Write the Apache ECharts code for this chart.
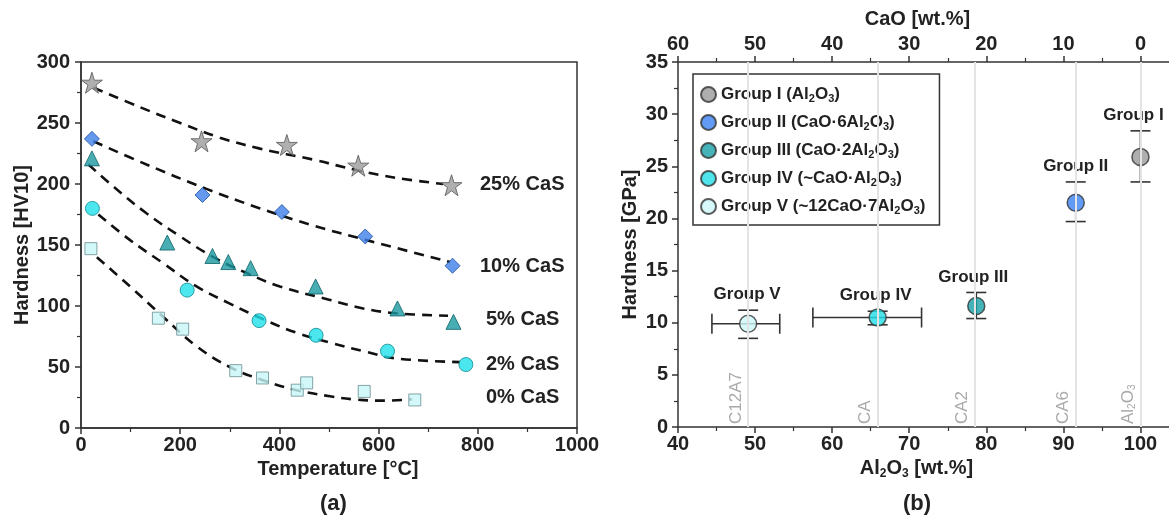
<!DOCTYPE html>
<html>
<head>
<meta charset="utf-8">
<script src="https://cdn.jsdelivr.net/npm/echarts@6/dist/echarts.min.js"></script>
<style>
  html, body { margin: 0; padding: 0; background: #fff; }
  #main { width: 1169px; height: 517px; }
</style>
</head>
<body>
<div id="main"></div>
<script>
// (a) hardness vs temperature, [T °C, HV10]
const cas25 = [[22, 283], [243, 235], [415, 232], [559, 215], [747, 199]];
const cas10 = [[22, 237], [245, 191], [405, 177], [573, 157], [749, 133]];
const cas5 = [[22, 221], [174, 152], [265, 141], [297, 136], [342, 131], [473, 116], [638, 98], [751, 87]];
const cas2 = [[23, 180], [214, 113], [359, 88], [474, 76], [618, 63], [776, 52]];
const cas0 = [[20, 147], [156, 90], [205, 81], [312, 47], [366, 41], [436, 31], [455, 37], [571, 30], [673, 23]];
// dashed fit curves
const fit25 = [[25, 279], [119, 263], [200, 250], [280, 238], [361, 229], [468, 220], [559, 211], [636, 205], [730, 200]];
const fit10 = [[25, 235], [132, 216], [253, 196], [361, 180], [468, 166], [576, 154], [744, 136]];
const fit5 = [[15, 216], [65, 198], [132, 176], [200, 157], [267, 140], [334, 127], [401, 116], [502, 105], [569, 98], [636, 94], [740, 92]];
const fit2 = [[35, 175], [99, 154], [166, 135], [233, 116], [300, 102], [368, 89], [435, 78], [502, 70], [569, 63], [636, 57], [764, 54]];
const fit0 = [[32, 140], [99, 116], [166, 91], [233, 67], [300, 50], [368, 39], [435, 31], [502, 26], [549, 23.5], [609, 22.4], [667, 23.5]];
const casLabels = ['25% CaS', '10% CaS', '5% CaS', '2% CaS', '0% CaS'];

// (b) hardness vs composition
const groups = ['Group I', 'Group II', 'Group III', 'Group IV', 'Group V'];
const groupNames = ['Group I (Al2O3)', 'Group II (CaO·6Al2O3)', 'Group III (CaO·2Al2O3)', 'Group IV (~CaO·Al2O3)', 'Group V (~12CaO·7Al2O3)'];
const al2o3 = [100, 91.6, 78.7, 65.9, 49.1];
const hardGPa = [25.9, 21.5, 11.6, 10.5, 9.9];
const hardLow = [23.5, 19.7, 10.4, 9.8, 8.5];
const hardHigh = [28.4, 23.5, 12.9, 11.1, 11.2];
const alLow = [null, null, null, 57.5, 44.4];
const alHigh = [null, null, null, 71.6, 53.2];
const refPos = [49.1, 65.9, 78.5, 91.6, 100];
const refNames = ['C12A7', 'CA', 'CA2', 'CA6', 'Al2O3'];

const FONT = 'Liberation Sans';
const INK = '#222';
const groupColors = ['#9a9a9a', '#3b82f0', '#17a0a6', '#22dfe8', '#cdf8f8'];
const groupLabelDx = [-7, 0, -3, -2, -1];

const chart = echarts.init(document.getElementById('main'));

// turn Al2O3 into rich text with subscripts
function subFmt(s) {
  return '{n|' + s.replace('Al2O3', 'Al}{s|2}{n|O}{s|3}{n|') + '}';
}
function richSub(size, color) {
  return {
    n: { fontSize: size, fontWeight: 'bold', fontFamily: FONT, color: color, lineHeight: size + 2 },
    s: { fontSize: Math.round(size * 0.62), fontWeight: 'bold', fontFamily: FONT, color: color, lineHeight: 8, verticalAlign: 'bottom' }
  };
}

const star = 'path://M50,2 L61,36 L97,36 L68,57 L79,92 L50,71 L21,92 L32,57 L3,36 L39,36 Z';

function axisCommon(min, max, interval) {
  return {
    min: min, max: max, interval: interval,
    axisLine: { show: true, lineStyle: { color: '#333', width: 1.5 } },
    axisTick: { show: true, inside: false, length: 6, lineStyle: { color: '#333', width: 1.5 } },
    minorTick: { show: true, splitNumber: 2, length: 4, lineStyle: { color: '#333', width: 1.2 } },
    splitLine: { show: false },
    axisLabel: { color: INK, fontSize: 20, fontWeight: 'bold', fontFamily: FONT, formatter: function (v) { return String(v); } },
    nameTextStyle: { color: INK, fontSize: 20, fontWeight: 'bold', fontFamily: FONT }
  };
}

function errRender(params, api) {
  const i = params.dataIndex;
  const x = api.value(0);
  const top = api.coord([x, hardHigh[i]]);
  const bot = api.coord([x, hardLow[i]]);
  const st = { stroke: '#333', lineWidth: 1.6 };
  const cap = 10;
  const ch = [
    { type: 'line', shape: { x1: top[0], y1: top[1], x2: bot[0], y2: bot[1] }, style: st },
    { type: 'line', shape: { x1: top[0] - cap, y1: top[1], x2: top[0] + cap, y2: top[1] }, style: st },
    { type: 'line', shape: { x1: bot[0] - cap, y1: bot[1], x2: bot[0] + cap, y2: bot[1] }, style: st }
  ];
  if (alLow[i] != null) {
    const l = api.coord([alLow[i], api.value(1)]);
    const r = api.coord([alHigh[i], api.value(1)]);
    ch.push({ type: 'line', shape: { x1: l[0], y1: l[1], x2: r[0], y2: r[1] }, style: st });
    ch.push({ type: 'line', shape: { x1: l[0], y1: l[1] - cap, x2: l[0], y2: l[1] + cap }, style: st });
    ch.push({ type: 'line', shape: { x1: r[0], y1: r[1] - cap, x2: r[0], y2: r[1] + cap }, style: st });
  }
  ch.push({
    type: 'text',
    style: {
      text: groups[i], x: top[0] + groupLabelDx[i], y: top[1] - 7, align: 'center', verticalAlign: 'bottom',
      fontSize: 17, fontWeight: 'bold', fontFamily: FONT, fill: INK
    }
  });
  return { type: 'group', children: ch };
}

const leftMarks = [
  { data: cas25, symbol: star, size: 21, color: '#9b9b9b', border: '#555' },
  { data: cas10, symbol: 'diamond', size: 15, color: '#3d7fe8', border: '#1f4fa0' },
  { data: cas5, symbol: 'triangle', size: 15, color: '#1a9aa0', border: '#0a6168' },
  { data: cas2, symbol: 'circle', size: 14, color: '#1fe0ea', border: '#0c8a90' },
  { data: cas0, symbol: 'rect', size: 12, color: '#c8f6f8', border: '#6a8c8e' }
];
const fits = [fit25, fit10, fit5, fit2, fit0];
const labelY = [185, 267, 320, 365, 398];
const labelX = [480, 480, 486, 486, 486];

const series = [];
fits.forEach(function (f) {
  series.push({
    type: 'line', xAxisIndex: 0, yAxisIndex: 0, data: f, smooth: 0.4, showSymbol: false,
    silent: true, z: 2,
    lineStyle: { color: '#111', width: 2.6, type: [10, 7] }
  });
});
leftMarks.forEach(function (m) {
  series.push({
    type: 'scatter', xAxisIndex: 0, yAxisIndex: 0, data: m.data, symbol: m.symbol, symbolSize: m.size,
    z: 3, itemStyle: { color: m.color, borderColor: m.border, borderWidth: 1 }
  });
});
series.push({
  type: 'custom', xAxisIndex: 1, yAxisIndex: 1, renderItem: errRender, z: 3,
  data: al2o3.map(function (v, i) { return [v, hardGPa[i]]; }),
  encode: { x: 0, y: 1 },
  markLine: {
    silent: true, symbol: 'none', animation: false,
    lineStyle: { color: '#e4e4e4', width: 2, type: 'solid' },
    label: {
      show: true, position: 'insideStartTop', distance: 3,
      formatter: function (p) { return '{g|' + p.name.replace('Al2O3', 'Al}{gs|2}{g|O}{gs|3}{g|') + '}'; },
      rich: {
        g: { fontSize: 17, color: '#aaaaaa', fontFamily: FONT, lineHeight: 18 },
        gs: { fontSize: 10, color: '#aaaaaa', fontFamily: FONT, lineHeight: 9, verticalAlign: 'bottom' }
      }
    },
    data: refPos.map(function (v, i) { return { xAxis: v, name: refNames[i] }; })
  }
});
groupNames.forEach(function (g, i) {
  series.push({
    name: g, type: 'scatter', xAxisIndex: 1, yAxisIndex: 1,
    data: [[al2o3[i], hardGPa[i]]], symbol: 'circle', symbolSize: 17, z: 4,
    itemStyle: { color: groupColors[i], borderColor: '#333', borderWidth: 1.5 }
  });
});

const graphics = casLabels.map(function (t, i) {
  return {
    type: 'text', left: labelX[i], top: labelY[i] - 11,
    style: { text: t, fontSize: 20, fontWeight: 'bold', fontFamily: FONT, fill: INK }
  };
});
graphics.push({ type: 'text', left: 320, top: 493, style: { text: '(a)', fontSize: 22, fontWeight: 'bold', fontFamily: FONT, fill: INK } });
graphics.push({ type: 'text', left: 903, top: 493, style: { text: '(b)', fontSize: 22, fontWeight: 'bold', fontFamily: FONT, fill: INK } });

const xA0 = Object.assign(axisCommon(0, 1000, 200), {
  gridIndex: 0, type: 'value', name: 'Temperature [°C]', nameLocation: 'middle', nameGap: 30
});
xA0.axisLabel.margin = 7;
xA0.nameTextStyle.padding = [0, 0, 0, 18];
const yA0 = Object.assign(axisCommon(0, 300, 50), {
  gridIndex: 0, type: 'value', name: 'Hardness [HV10]', nameLocation: 'middle', nameGap: 47
});
yA0.axisLabel.margin = 11;

const xA1 = Object.assign(axisCommon(40, 105, 10), {
  gridIndex: 1, type: 'value', name: subFmt('Al2O3 [wt.%]'), nameLocation: 'middle', nameGap: 30
});
xA1.axisLabel.margin = 7;
xA1.axisLabel.showMaxLabel = false;
xA1.nameTextStyle.rich = richSub(20, INK);
xA1.nameTextStyle.padding = [0, 24, 0, 0];

const xA2 = Object.assign(axisCommon(40, 105, 10), {
  gridIndex: 1, type: 'value', position: 'top', name: 'CaO [wt.%]', nameLocation: 'middle', nameGap: 33
});
xA2.axisLabel.margin = 8;
xA2.axisLabel.showMaxLabel = false;
xA2.axisLabel.formatter = function (v) { return String(100 - v); };
xA2.nameTextStyle.padding = [0, 22, 0, 0];

const yA1 = Object.assign(axisCommon(0, 35, 5), {
  gridIndex: 1, type: 'value', name: 'Hardness [GPa]', nameLocation: 'middle', nameGap: 38
});
yA1.axisLabel.margin = 10;

chart.setOption({
  animation: false,
  grid: [
    { left: 81, top: 62, width: 496, height: 366, show: true, borderColor: '#333', borderWidth: 1.5, backgroundColor: 'transparent', outerBoundsMode: 'none', containLabel: false },
    { left: 678, top: 62, width: 501, height: 365, outerBoundsMode: 'none', containLabel: false }
  ],
  xAxis: [xA0, xA1, xA2],
  yAxis: [yA0, yA1],
  legend: {
    data: groupNames, orient: 'vertical', left: 693, top: 74,
    icon: 'circle', itemWidth: 15, itemHeight: 15, itemGap: 10,
    padding: [12, 14, 9, 7],
    borderColor: '#333', borderWidth: 1.5, backgroundColor: '#fff',
    formatter: function (n) { return subFmt(n); },
    textStyle: { rich: richSub(17, INK) },
    selectedMode: false
  },
  graphic: graphics,
  series: series
});
</script>
</body>
</html>
